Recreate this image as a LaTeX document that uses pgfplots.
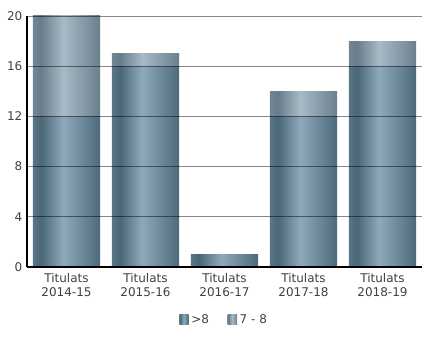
\documentclass[border=0pt]{standalone}
\usepackage{fontspec}
\setmainfont{DejaVu Sans}
\usepackage{pgfplots}
\pgfplotsset{compat=1.18}
\definecolor{txt}{HTML}{404040}
\pgfdeclarehorizontalshading{shA}{100bp}{color(0bp)=(rgb,255:red,88;green,118;blue,134); color(25bp)=(rgb,255:red,88;green,118;blue,134); color(31bp)=(rgb,255:red,74;green,103;blue,120); color(47.5bp)=(rgb,255:red,142;green,170;blue,186); color(75bp)=(rgb,255:red,77;green,106;blue,122); color(100bp)=(rgb,255:red,77;green,106;blue,122)}
\pgfdeclarehorizontalshading{shB}{100bp}{color(0bp)=(rgb,255:red,113;green,133;blue,149); color(25bp)=(rgb,255:red,113;green,133;blue,149); color(31bp)=(rgb,255:red,104;green,125;blue,139); color(47.5bp)=(rgb,255:red,168;green,186;blue,198); color(75bp)=(rgb,255:red,106;green,127;blue,141); color(100bp)=(rgb,255:red,106;green,127;blue,141)}
\pgfplotsset{
  base/.style={at={(0,0)}, anchor=south west,
    scale only axis, width=296.25pt, height=188.25pt,
    xmin=-0.5, xmax=4.5, ymin=0, ymax=20},
  bars/.style={base, hide axis, ybar stacked, bar width=0.85},
  sa/.style={draw=none, shading=shA},
  sb/.style={draw=none, shading=shB},
}
\begin{document}
\begin{tikzpicture}[x=0.75pt,y=0.75pt]
\path[use as bounding box] (-27,-81) rectangle (403,267);
\begin{axis}[bars]
\addplot[sa] coordinates {(0,12)};
\addplot[sb] coordinates {(0,8)};
\end{axis}
\begin{axis}[bars]
\addplot[sa] coordinates {(1,16)};
\addplot[sb] coordinates {(1,1)};
\end{axis}
\begin{axis}[bars]
\addplot[sa] coordinates {(2,1)};
\addplot[sb] coordinates {(2,0)};
\end{axis}
\begin{axis}[bars]
\addplot[sa] coordinates {(3,12)};
\addplot[sb] coordinates {(3,2)};
\end{axis}
\begin{axis}[bars]
\addplot[sa] coordinates {(4,16)};
\addplot[sb] coordinates {(4,2)};
\end{axis}
\begin{axis}[
  base,
  xtick={0,1,2,3,4},
  xticklabels={{Titulats\\2014-15},{Titulats\\2015-16},{Titulats\\2016-17},{Titulats\\2017-18},{Titulats\\2018-19}},
  x tick label style={align=center, font=\fontsize{9}{10.5}\selectfont, text=txt, yshift=-1pt},
  y tick label style={font=\fontsize{9}{10}\selectfont, text=txt},
  /pgf/number format/assume math mode=true,
  ytick={0,4,8,12,16,20},
  major tick length=0pt,
  ymajorgrids, grid style={black, opacity=0.47, line width=0.7pt},
  axis x line=bottom, axis y line=left,
  axis line style={black, line width=0.8pt, -},
  legend style={at={(0.5,-0.21)}, anchor=center, draw=none, legend columns=2,
    font=\fontsize{9}{10}\selectfont, text=txt,
    /tikz/every even column/.append style={column sep=12pt}},
  legend image code/.code={\path[#1] (0pt,-3.5pt) rectangle (7pt,4pt);},
]
\addlegendimage{sa}
\addlegendentry{>8}
\addlegendimage{sb}
\addlegendentry{7 - 8}
\draw[black, opacity=0.47, line width=0.7pt] (rel axis cs:1,0) -- (rel axis cs:1,1);
\end{axis}
\end{tikzpicture}
\end{document}
